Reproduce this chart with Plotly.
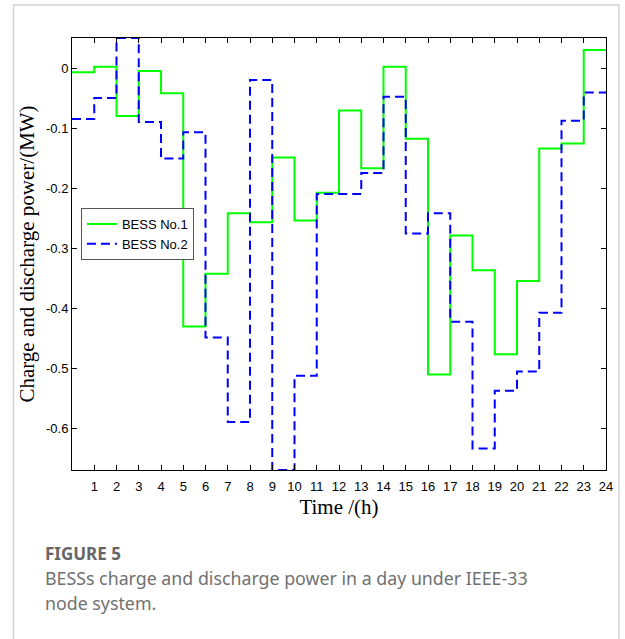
import plotly.graph_objects as go

# Hourly charge/discharge power (MW), one value per hour 0-1 ... 23-24
hours = list(range(0, 25))
bess1 = [-0.007, 0.002, -0.080, -0.005, -0.042, -0.431, -0.343, -0.242,
         -0.257, -0.149, -0.254, -0.208, -0.071, -0.167, 0.002, -0.118,
         -0.511, -0.279, -0.337, -0.477, -0.355, -0.134, -0.126, 0.030]
bess2 = [-0.085, -0.050, 0.050, -0.090, -0.151, -0.107, -0.449, -0.590,
         -0.020, -0.670, -0.513, -0.210, -0.210, -0.175, -0.048, -0.276,
         -0.242, -0.423, -0.634, -0.538, -0.506, -0.408, -0.088, -0.041]

x_ticks = list(range(1, 25))
y_ticks = [0, -0.1, -0.2, -0.3, -0.4, -0.5, -0.6]
y_tick_labels = ["0", "-0.1", "-0.2", "-0.3", "-0.4", "-0.5", "-0.6"]

W, H = 625, 639
L, R, T, B = 72, 15, 38, 169
pw, ph = W - L - R, H - T - B


def px(x):
    return (x - L) / pw


def py(y):
    return (H - B - y) / ph


fig = go.Figure()
fig.add_trace(go.Scatter(
    x=hours, y=bess1 + [bess1[-1]], mode="lines", name="BESS No.1",
    line=dict(shape="hv", color="#00ff00", width=2),
))
fig.add_trace(go.Scatter(
    x=hours, y=bess2 + [bess2[-1]], mode="lines", name="BESS No.2",
    line=dict(shape="hv", color="#0000ff", width=2, dash="9px,5px"),
))

axis_common = dict(
    showline=True, linecolor="black", linewidth=1, mirror="ticks",
    ticks="inside", ticklen=5, tickcolor="black", tickwidth=1,
    showgrid=False, zeroline=False,
    tickfont=dict(family="Liberation Sans", size=13, color="black"),
)
serif = dict(family="Liberation Serif", size=21, color="black")

fig.update_xaxes(
    range=[0, 24], tickvals=x_ticks, ticktext=[str(t) for t in x_ticks],
    ticklabelstandoff=4,
    title=dict(text="Time /(h)", font=serif, standoff=6),
    **axis_common,
)
fig.update_yaxes(
    range=[-0.67, 0.05], tickvals=y_ticks, ticktext=y_tick_labels,
    title=dict(text="Charge and discharge power/(MW)", font=serif, standoff=5),
    **axis_common,
)

# Card outline around the figure and caption
fig.add_shape(type="rect", xref="paper", yref="paper",
              x0=px(13), x1=px(623), y0=py(5), y1=py(660),
              line=dict(color="#d4d4d4", width=1.5), fillcolor="rgba(0,0,0,0)",
              layer="below")

cap_font = "Noto Sans"
cap_color = "#707070"
fig.add_annotation(text="<b>FIGURE 5</b>", xref="paper", yref="paper",
                   x=px(43), y=py(553), xanchor="left", yanchor="middle",
                   showarrow=False, font=dict(family=cap_font, size=17, color="#666666"))
fig.add_annotation(text="BESSs charge and discharge power in a day under IEEE-33",
                   xref="paper", yref="paper", x=px(43), y=py(578),
                   xanchor="left", yanchor="middle", showarrow=False,
                   font=dict(family=cap_font, size=17.8, color=cap_color))
fig.add_annotation(text="node system.", xref="paper", yref="paper",
                   x=px(43), y=py(603), xanchor="left", yanchor="middle",
                   showarrow=False, font=dict(family=cap_font, size=17.8, color=cap_color))

fig.update_layout(
    width=W, height=H,
    margin=dict(l=L, r=R, t=T, b=B),
    paper_bgcolor="white", plot_bgcolor="white",
    showlegend=True,
    legend=dict(x=px(81), y=py(208), xanchor="left", yanchor="top",
                bgcolor="white", bordercolor="#555555", borderwidth=1,
                font=dict(family="Liberation Sans", size=13, color="black"),
                tracegroupgap=0, itemwidth=30),
)

fig.write_html("out.html")
